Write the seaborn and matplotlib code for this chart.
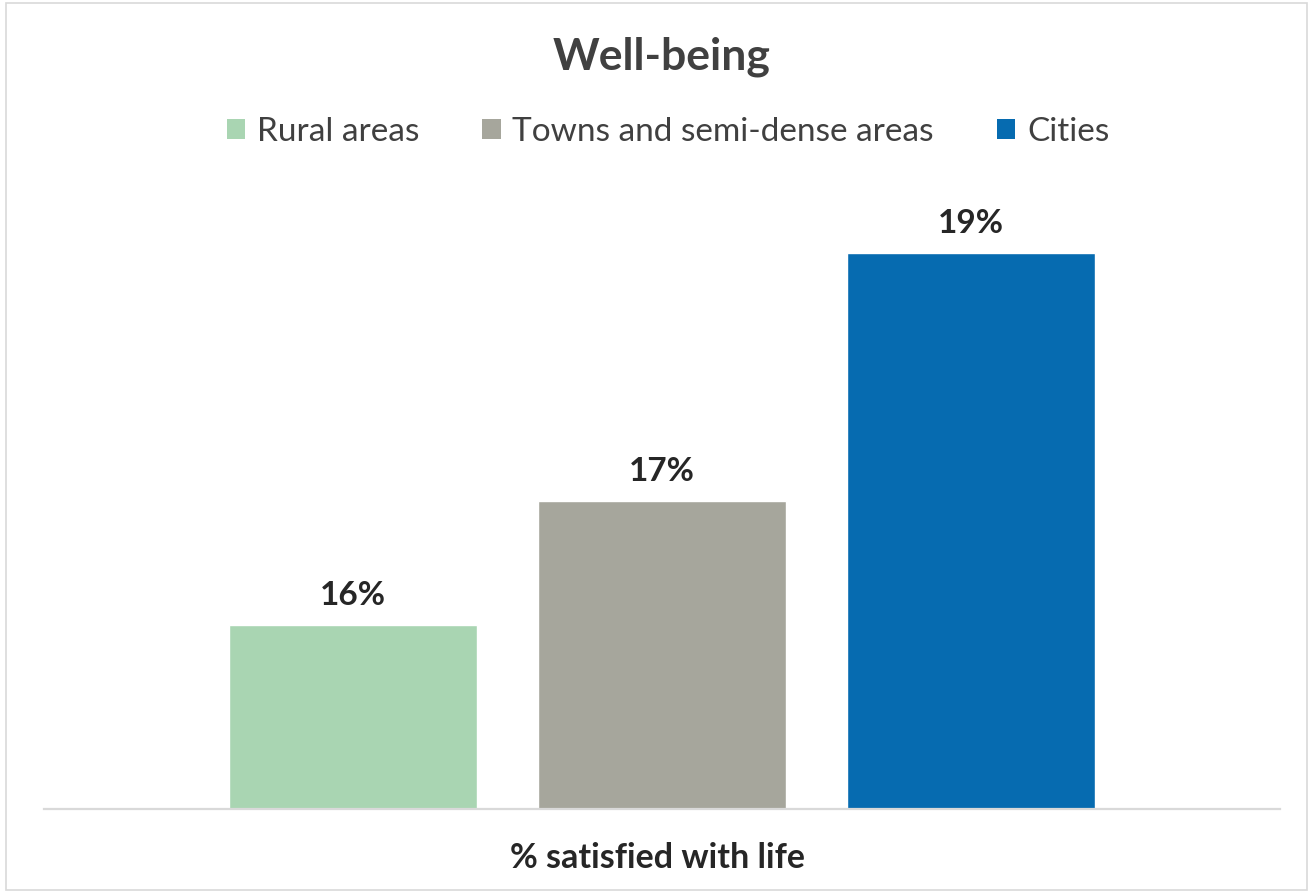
import matplotlib
matplotlib.use("Agg")
import matplotlib.pyplot as plt
from matplotlib.patches import Patch, Rectangle
import pandas as pd
import seaborn as sns

# Data
areas = ["Rural areas", "Towns and semi-dense areas", "Cities"]
satisfied = [16, 17, 19]
measure = "% satisfied with life"
colors = ["#A9D5B2", "#A6A69C", "#066BB0"]

df = pd.DataFrame({"measure": [measure] * len(areas), "area": areas, "value": satisfied})

sns.set_theme(style="white")
plt.rcParams["font.family"] = ["Lato", "DejaVu Sans"]

W, H = 1314, 892
fig = plt.figure(figsize=(W / 100, H / 100), dpi=100)

# Plot area in pixel coordinates
left, right, top, base = 44, 1280, 190, 809
ax = fig.add_axes([left / W, (H - base) / H, (right - left) / W, (base - top) / H])

sns.barplot(data=df, x="measure", y="value", hue="area", hue_order=areas,
            palette=colors, width=0.75, gap=0.2, legend=False, ax=ax,
            saturation=1, errorbar=None)

ax.set_xlim(-0.5, 0.5)
ax.set_ylim(14.52, 14.52 + (base - top) / 124)
ax.set_xticks([])
ax.set_yticks([])
ax.set_xlabel("")
ax.set_ylabel("")
for s in ["top", "left", "right"]:
    ax.spines[s].set_visible(False)
ax.spines["bottom"].set_color("#D9D9D9")
ax.spines["bottom"].set_linewidth(1.6)

for cont in ax.containers:
    ax.bar_label(cont, fmt="%.0f%%", padding=11, fontsize=24, fontweight="bold",
                 color="#262626")

# Title, legend and category label
fig.text(662 / W, (H - 57) / H, "Well-being", ha="center", va="center",
         fontsize=32, fontweight="bold", color="#404040")

handles = [Patch(facecolor=c, edgecolor="none") for c in colors]
fig.legend(handles, areas, loc="center", bbox_to_anchor=(668 / W, (H - 132) / H),
           ncol=3, frameon=False, fontsize=24, labelcolor="#404040",
           handlelength=0.55, handleheight=0.55, handletextpad=0.35,
           columnspacing=1.9)

fig.text(0.5, (H - 858) / H, measure, ha="center", va="center",
         fontsize=24.5, fontweight="bold", color="#262626")

# Outer chart border
fig.patches.append(Rectangle((6 / W, 2 / H), (1307 - 6) / W, (H - 5) / H,
                             transform=fig.transFigure, fill=False,
                             edgecolor="#D9D9D9", linewidth=1.2))

fig.savefig("out.png", dpi=100, facecolor="white")
